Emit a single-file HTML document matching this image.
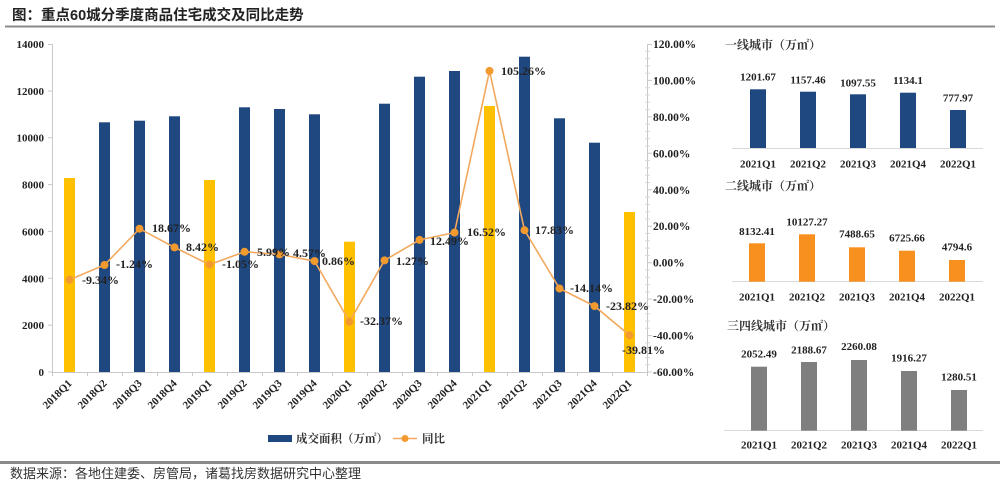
<!DOCTYPE html>
<html><head><meta charset="utf-8"><style>
html,body{margin:0;padding:0;background:#fff;}
svg{display:block;}
.n{font-family:"Liberation Serif",serif;font-weight:bold;fill:#222;}
.cj{font-family:"Liberation Serif","Noto Serif CJK SC",serif;font-weight:bold;fill:#333;}
</style></head><body>
<svg width="1000" height="481" viewBox="0 0 1000 481" xmlns="http://www.w3.org/2000/svg">
<rect width="1000" height="481" fill="#fff"/>
<text x="12" y="20" font-family="'Liberation Sans','Noto Sans CJK SC',sans-serif" font-weight="bold" font-size="14.5" fill="#222">图：重点60城分季度商品住宅成交及同比走势</text>
<rect x="5" y="25.5" width="990" height="2" fill="#8a8a8a"/>
<rect x="0" y="461" width="1000" height="3" fill="#8a8a8a"/>
<text x="10" y="478" font-family="'Liberation Sans','Noto Sans CJK SC',sans-serif" font-size="13" fill="#333">数据来源：各地住建委、房管局，诸葛找房数据研究中心整理</text>

<!-- main chart axes -->
<g stroke="#c8c8c8" stroke-width="1" fill="none">
<line x1="52.5" y1="44" x2="52.5" y2="372"/>
<line x1="52" y1="372.5" x2="647" y2="372.5"/>
<line x1="647.5" y1="44" x2="647.5" y2="372"/>
<path d="M48 44.5H52M48 91H52M48 137.7H52M48 184.6H52M48 231.4H52M48 278.3H52M48 325.1H52M48 372H52"/>
<path d="M52.5 372V376M87.5 372V376M122.5 372V376M157.5 372V376M192.5 372V376M227.5 372V376M262.5 372V376M297.5 372V376M332.5 372V376M367.5 372V376M402.5 372V376M437.5 372V376M472.5 372V376M507.5 372V376M542.5 372V376M577.5 372V376M612.5 372V376M647.5 372V376"/>
<path d="M647 44.5H652M647 80.4H652M647 116.9H652M647 153.3H652M647 189.8H652M647 226.2H652M647 262.7H652M647 299.1H652M647 335.6H652M647 372H652"/>
<path d="M645 51.3H650M645 58.6H650M645 65.9H650M645 73.2H650M645 87.7H650M645 95H650M645 102.3H650M645 109.6H650M645 124.2H650M645 131.5H650M645 138.8H650M645 146H650M645 160.6H650M645 167.9H650M645 175.2H650M645 182.5H650M645 197.1H650M645 204.4H650M645 211.7H650M645 219H650M645 233.5H650M645 240.8H650M645 248.1H650M645 255.4H650M645 270H650M645 277.3H650M645 284.6H650M645 291.9H650M645 306.4H650M645 313.7H650M645 321H650M645 328.3H650M645 342.9H650M645 350.2H650M645 357.5H650M645 364.7H650" stroke="#d8d8d8"/>
</g>
<g class="n" font-size="11" text-anchor="end">
<text x="44" y="48">14000</text>
<text x="44" y="95">12000</text>
<text x="44" y="141.7">10000</text>
<text x="44" y="188.6">8000</text>
<text x="44" y="235.4">6000</text>
<text x="44" y="282.3">4000</text>
<text x="44" y="329.1">2000</text>
<text x="44" y="376">0</text>
</g>
<g class="n" font-size="11.5">
<text x="653" y="48">120.00%</text>
<text x="653" y="84.4">100.00%</text>
<text x="653" y="120.9">80.00%</text>
<text x="653" y="157.3">60.00%</text>
<text x="653" y="193.8">40.00%</text>
<text x="653" y="230.2">20.00%</text>
<text x="653" y="266.7">0.00%</text>
<text x="653" y="303.1">-20.00%</text>
<text x="653" y="339.6">-40.00%</text>
<text x="653" y="376">-60.00%</text>
</g>

<!-- bars -->
<g>
<rect x="64" y="178" width="11" height="194" fill="#ffc000"/>
<rect x="99" y="122.3" width="11" height="249.7" fill="#1f4780"/>
<rect x="134" y="120.7" width="11" height="251.3" fill="#1f4780"/>
<rect x="169" y="116.3" width="11" height="255.7" fill="#1f4780"/>
<rect x="204" y="180" width="11" height="192" fill="#ffc000"/>
<rect x="239" y="107.3" width="11" height="264.7" fill="#1f4780"/>
<rect x="274" y="109" width="11" height="263" fill="#1f4780"/>
<rect x="309" y="114.3" width="11" height="257.7" fill="#1f4780"/>
<rect x="344" y="241.7" width="11" height="130.3" fill="#ffc000"/>
<rect x="379" y="103.7" width="11" height="268.3" fill="#1f4780"/>
<rect x="414" y="76.7" width="11" height="295.3" fill="#1f4780"/>
<rect x="449" y="71" width="11" height="301" fill="#1f4780"/>
<rect x="484" y="106" width="11" height="266" fill="#ffc000"/>
<rect x="519" y="56.7" width="11" height="315.3" fill="#1f4780"/>
<rect x="554" y="118.3" width="11" height="253.7" fill="#1f4780"/>
<rect x="589" y="142.7" width="11" height="229.3" fill="#1f4780"/>
<rect x="624" y="212" width="11" height="160" fill="#ffc000"/>
</g>

<!-- line -->
<polyline fill="none" stroke="#f2a95e" stroke-width="1.6" points="69.5,279.7 104.5,265 139.5,228.7 174.5,247.4 209.5,264.6 244.5,251.8 279.5,254.4 314.5,261.1 349.5,321.7 384.5,260.4 419.5,239.9 454.5,232.6 489.5,70.9 524.5,230.2 559.5,288.5 594.5,306.1 629.5,335.2"/>
<g fill="#f39a2e">
<circle cx="69.5" cy="279.7" r="4"/><circle cx="104.5" cy="265" r="4"/><circle cx="139.5" cy="228.7" r="4"/><circle cx="174.5" cy="247.4" r="4"/><circle cx="209.5" cy="264.6" r="4"/><circle cx="244.5" cy="251.8" r="4"/><circle cx="279.5" cy="254.4" r="4"/><circle cx="314.5" cy="261.1" r="4"/><circle cx="349.5" cy="321.7" r="4"/><circle cx="384.5" cy="260.4" r="4"/><circle cx="419.5" cy="239.9" r="4"/><circle cx="454.5" cy="232.6" r="4"/><circle cx="489.5" cy="70.9" r="4"/><circle cx="524.5" cy="230.2" r="4"/><circle cx="559.5" cy="288.5" r="4"/><circle cx="594.5" cy="306.1" r="4"/><circle cx="629.5" cy="335.2" r="4"/>
</g>
<g class="n" font-size="12">
<text x="82" y="284">-9.34%</text>
<text x="116" y="268">-1.24%</text>
<text x="152" y="232">18.67%</text>
<text x="186" y="251">8.42%</text>
<text x="222" y="268">-1.05%</text>
<text x="257" y="256">5.99%</text>
<text x="293" y="257">4.57%</text>
<text x="322" y="265">0.86%</text>
<text x="360" y="325">-32.37%</text>
<text x="396" y="265">1.27%</text>
<text x="430" y="245">12.49%</text>
<text x="467" y="236">16.52%</text>
<text x="501" y="75">105.26%</text>
<text x="535" y="234">17.83%</text>
<text x="570" y="292">-14.14%</text>
<text x="606" y="310">-23.82%</text>
<text x="622" y="354">-39.81%</text>
</g>

<!-- x labels -->
<g class="n" font-size="11" text-anchor="end">
<text transform="translate(72.5,384) rotate(-45)">2018Q1</text>
<text transform="translate(107.5,384) rotate(-45)">2018Q2</text>
<text transform="translate(142.5,384) rotate(-45)">2018Q3</text>
<text transform="translate(177.5,384) rotate(-45)">2018Q4</text>
<text transform="translate(212.5,384) rotate(-45)">2019Q1</text>
<text transform="translate(247.5,384) rotate(-45)">2019Q2</text>
<text transform="translate(282.5,384) rotate(-45)">2019Q3</text>
<text transform="translate(317.5,384) rotate(-45)">2019Q4</text>
<text transform="translate(352.5,384) rotate(-45)">2020Q1</text>
<text transform="translate(387.5,384) rotate(-45)">2020Q2</text>
<text transform="translate(422.5,384) rotate(-45)">2020Q3</text>
<text transform="translate(457.5,384) rotate(-45)">2020Q4</text>
<text transform="translate(492.5,384) rotate(-45)">2021Q1</text>
<text transform="translate(527.5,384) rotate(-45)">2021Q2</text>
<text transform="translate(562.5,384) rotate(-45)">2021Q3</text>
<text transform="translate(597.5,384) rotate(-45)">2021Q4</text>
<text transform="translate(632.5,384) rotate(-45)">2022Q1</text>
</g>

<!-- legend -->
<rect x="268" y="435" width="24" height="7" fill="#1f4780"/>
<text class="cj" x="296" y="442.5" font-size="11.5">成交面积（万㎡）</text>
<line x1="393" y1="438.5" x2="417" y2="438.5" stroke="#f2a95e" stroke-width="1.6"/>
<circle cx="405" cy="438.5" r="3.5" fill="#f39a2e"/>
<text class="cj" x="422" y="442.5" font-size="11.5">同比</text>

<!-- panel 1 -->
<text class="cj" x="725" y="49" font-size="12">一线城市（万㎡）</text>
<line x1="732" y1="148.5" x2="983" y2="148.5" stroke="#d9d9d9"/>
<g fill="#1f4780">
<rect x="750" y="89.3" width="16" height="58.7"/>
<rect x="800" y="91.7" width="16" height="56.3"/>
<rect x="850" y="94.3" width="16" height="53.7"/>
<rect x="900" y="92.7" width="16" height="55.3"/>
<rect x="950" y="110" width="16" height="38"/>
</g>
<g class="n" font-size="11" text-anchor="middle">
<text x="758" y="80.7">1201.67</text>
<text x="808" y="83.3">1157.46</text>
<text x="858" y="86.3">1097.55</text>
<text x="908" y="84">1134.1</text>
<text x="958" y="101.7">777.97</text>
<text x="758" y="167.3">2021Q1</text>
<text x="808" y="167.3">2021Q2</text>
<text x="858" y="167.3">2021Q3</text>
<text x="908" y="167.3">2021Q4</text>
<text x="958" y="167.3">2022Q1</text>
</g>

<!-- panel 2 -->
<text class="cj" x="725" y="190" font-size="12">二线城市（万㎡）</text>
<line x1="732" y1="281.5" x2="983" y2="281.5" stroke="#d9d9d9"/>
<g fill="#f7901e">
<rect x="749" y="243.3" width="16" height="38.4"/>
<rect x="799" y="234.3" width="16" height="47.4"/>
<rect x="849" y="247.3" width="16" height="34.4"/>
<rect x="899" y="250.7" width="16" height="31"/>
<rect x="949" y="260" width="16" height="21.7"/>
</g>
<g class="n" font-size="11" text-anchor="middle">
<text x="757" y="235">8132.41</text>
<text x="807" y="225.7">10127.27</text>
<text x="857" y="237.3">7488.65</text>
<text x="907" y="241.3">6725.66</text>
<text x="957" y="250.7">4794.6</text>
<text x="757" y="300.7">2021Q1</text>
<text x="807" y="300.7">2021Q2</text>
<text x="857" y="300.7">2021Q3</text>
<text x="907" y="300.7">2021Q4</text>
<text x="957" y="300.7">2022Q1</text>
</g>

<!-- panel 3 -->
<text class="cj" x="727" y="330" font-size="12">三四线城市（万㎡）</text>
<line x1="724" y1="430.5" x2="983" y2="430.5" stroke="#d9d9d9"/>
<g fill="#7f7f7f">
<rect x="751" y="366.7" width="16" height="64"/>
<rect x="801" y="362" width="16" height="68.7"/>
<rect x="851" y="360" width="16" height="70.7"/>
<rect x="901" y="371" width="16" height="59.7"/>
<rect x="951" y="390" width="16" height="40.7"/>
</g>
<g class="n" font-size="11" text-anchor="middle">
<text x="759" y="357.3">2052.49</text>
<text x="809" y="353.3">2188.67</text>
<text x="859" y="350">2260.08</text>
<text x="909" y="361.7">1916.27</text>
<text x="959" y="380.7">1280.51</text>
<text x="759" y="448.3">2021Q1</text>
<text x="809" y="448.3">2021Q2</text>
<text x="859" y="448.3">2021Q3</text>
<text x="909" y="448.3">2021Q4</text>
<text x="959" y="448.3">2022Q1</text>
</g>
</svg>
</body></html>
